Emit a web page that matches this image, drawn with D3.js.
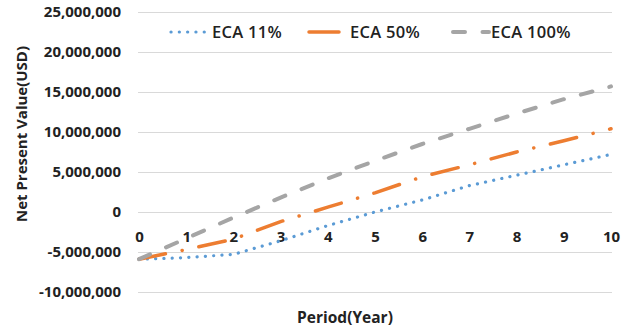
<!DOCTYPE html>
<html>
<head>
<meta charset="utf-8">
<script src="https://cdn.jsdelivr.net/npm/d3@7"></script>
<style>
  body { margin: 0; background: #fff; }
  text { font-family: "Open Sans", "Noto Sans", sans-serif; font-weight: 700; fill: #222; }
</style>
</head>
<body>
<div id="chart"></div>
<script>
// data (NPV in USD)
const years = [0, 1, 2, 3, 4, 5, 6, 7, 8, 9, 10];
const eca11 = [-5900000, -5700000, -5300000, -3600000, -1700000, 0, 1500000, 3300000, 4600000, 5900000, 7200000];
const eca50 = [-5900000, -4700000, -3400000, -1200000, 600000, 2400000, 4400000, 5900000, 7500000, 8900000, 10400000];
const eca100 = [-5900000, -3300000, -700000, 1800000, 4200000, 6400000, 8500000, 10400000, 12300000, 14100000, 15700000];
const seriesNames = ["ECA 11%", "ECA 50%", "ECA 100%"];
const yTicks = [-10000000, -5000000, 0, 5000000, 10000000, 15000000, 20000000, 25000000];

const width = 627, height = 330;
const margin = { top: 12, right: 15, bottom: 38, left: 139 };

const svg = d3.select("#chart").append("svg")
    .attr("width", width)
    .attr("height", height);

const x = d3.scaleLinear()
    .domain([0, 10])
    .range([margin.left, width - margin.right - 1]);

const y = d3.scaleLinear()
    .domain([-10000000, 25000000])
    .range([height - margin.bottom, margin.top]);

const fmt = d => d3.format(",")(d).replace("\u2212", "-");

// gridlines
svg.append("g")
    .selectAll("line")
    .data(yTicks)
    .enter()
    .append("line")
    .attr("x1", margin.left - 1)
    .attr("x2", width - margin.right)
    .attr("y1", d => Math.round(y(d)) + 0.5)
    .attr("y2", d => Math.round(y(d)) + 0.5)
    .attr("stroke", "#d9d9d9")
    .attr("stroke-width", 1);

// y axis labels
const yAxis = svg.append("g")
    .attr("transform", "translate(" + (margin.left - 1) + ",0)")
    .call(d3.axisLeft(y).tickValues(yTicks).tickFormat(fmt).tickSize(0).tickPadding(17));
yAxis.select(".domain").remove();
yAxis.selectAll("text")
    .style("font-size", "15px")
    .style("font-family", null);

// x axis labels, hanging from the zero line
const xAxis = svg.append("g")
    .attr("transform", "translate(0," + y(0) + ")")
    .call(d3.axisBottom(x).tickValues(years).tickFormat(d3.format("d")).tickSize(0).tickPadding(19));
xAxis.select(".domain").remove();
xAxis.selectAll("text")
    .style("font-size", "15px")
    .style("font-family", null);

// axis titles
svg.append("text")
    .attr("transform", "translate(27,134) rotate(-90)")
    .attr("text-anchor", "middle")
    .style("font-size", "15px")
    .text("Net Present Value(USD)");

svg.append("text")
    .attr("x", 345)
    .attr("y", 323)
    .attr("text-anchor", "middle")
    .style("font-size", "15.5px")
    .text("Period(Year)");

// lines
const series = [
    { name: seriesNames[0], values: eca11, color: "#5b9bd5", width: 3.2, dash: "0.1,8.2" },
    { name: seriesNames[1], values: eca50, color: "#ed7d31", width: 3.5, dash: "27,17,0.1,17" },
    { name: seriesNames[2], values: eca100, color: "#a5a5a5", width: 4, dash: "12,17.5" }
];

const line = d3.line()
    .x((d, i) => x(years[i]))
    .y(d => y(d));

svg.append("g")
    .selectAll("path")
    .data(series)
    .enter()
    .append("path")
    .attr("d", d => line(d.values))
    .attr("fill", "none")
    .attr("stroke", d => d.color)
    .attr("stroke-width", d => d.width)
    .attr("stroke-dasharray", d => d.dash)
    .attr("stroke-linecap", "round");

// legend
const legendX = [171, 309, 453];
const legendY = 32;
const legend = svg.append("g")
    .selectAll("g")
    .data(series)
    .enter()
    .append("g")
    .attr("transform", (d, i) => "translate(" + legendX[i] + "," + legendY + ")");

legend.append("line")
    .attr("x1", 0)
    .attr("x2", (d, i) => i === 1 ? 30 : 36)
    .attr("y1", 0)
    .attr("y2", 0)
    .attr("stroke", d => d.color)
    .attr("stroke-width", d => d.width)
    .attr("stroke-dasharray", (d, i) => i === 1 ? null : d.dash)
    .attr("stroke-linecap", "round");

legend.append("text")
    .attr("x", (d, i) => i === 2 ? 38 : 41)
    .attr("dy", "0.36em")
    .style("font-size", "16.5px")
    .style("font-weight", 600)
    .style("letter-spacing", "0.3px")
    .text(d => d.name);
</script>
</body>
</html>
